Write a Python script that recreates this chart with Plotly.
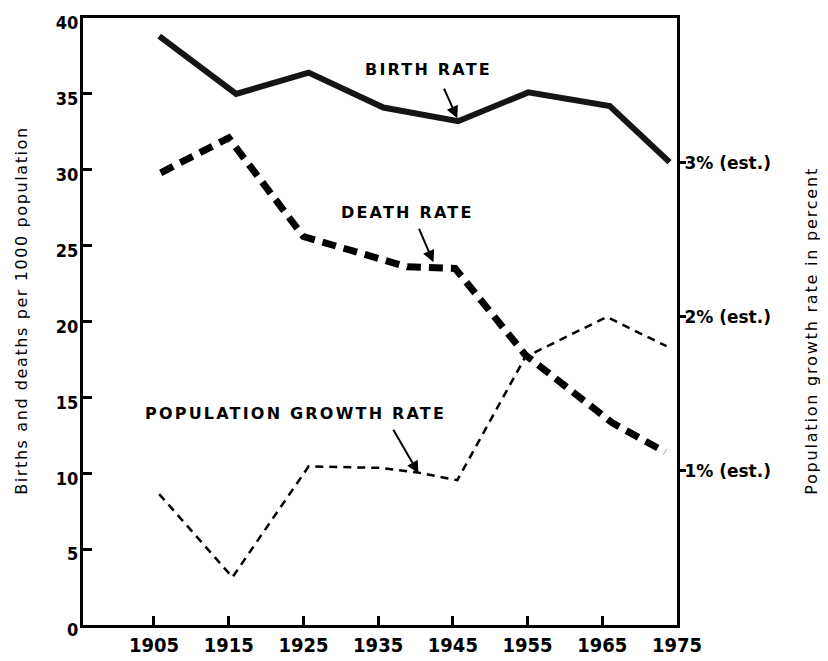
import plotly.graph_objects as go

# ---- data ----
birth_years = [1905.7, 1916.0, 1925.7, 1935.7, 1945.7, 1955.1, 1966.0, 1974.0]
birth_rate = [38.8, 35.0, 36.4, 34.1, 33.2, 35.1, 34.2, 30.5]

death_years = [1905.9, 1915.0, 1925.0, 1938.9, 1945.3, 1954.7, 1966.4, 1973.4]
death_rate = [29.8, 32.1, 25.6, 23.6, 23.5, 17.8, 13.3, 11.4]

growth_years = [1905.7, 1915.5, 1925.7, 1935.3, 1940.3, 1945.6, 1954.7, 1965.6, 1973.6]
growth_pct = [0.85, 0.31, 1.03, 1.02, 0.99, 0.94, 1.74, 2.0, 1.81]

x_ticks = [1905, 1915, 1925, 1935, 1945, 1955, 1965, 1975]
y_ticks = [0, 5, 10, 15, 20, 25, 30, 35, 40]
y2_ticks = [1, 2, 3]
y2_labels = ["1% (est.)", "2% (est.)", "3% (est.)"]

FONT = "DejaVu Sans Condensed, DejaVu Sans, sans-serif"
LABEL_FONT = "DejaVu Sans, Verdana, sans-serif"


def spaced(text, px):
    return '<span style="letter-spacing:%spx">%s</span>' % (px, text)


fig = go.Figure()

fig.add_trace(go.Scatter(x=birth_years, y=birth_rate, mode="lines",
                         line=dict(color="#151515", width=6), name="Birth rate",
                         showlegend=False))
fig.add_trace(go.Scatter(x=death_years, y=death_rate, mode="lines",
                         line=dict(color="#000000", width=7, dash="14px,8px"),
                         name="Death rate", showlegend=False))
fig.add_trace(go.Scatter(x=growth_years, y=growth_pct, mode="lines", yaxis="y2",
                         line=dict(color="#000000", width=2.5, dash="8px,6px"),
                         name="Population growth rate", showlegend=False))

annos = [
    dict(text="BIRTH RATE", x=1941.7, y=36.6),
    dict(text="DEATH RATE", x=1938.9, y=27.2),
    dict(text="POPULATION GROWTH RATE", x=1924.0, y=13.95),
]
for a in annos:
    fig.add_annotation(x=a["x"], y=a["y"], xref="x", yref="y",
                       text=spaced(a["text"], 2.2), showarrow=False,
                       font=dict(family=LABEL_FONT, size=16, color="#000",
                                 weight="bold"))

arrows = [
    dict(x=1945.6, y=33.4, ax=-14, ay=-31),
    dict(x=1942.4, y=23.9, ax=-15, ay=-35),
    dict(x=1940.4, y=10.0, ax=-26, ay=-45),
]
for a in arrows:
    fig.add_annotation(x=a["x"], y=a["y"], xref="x", yref="y", text="",
                       showarrow=True, arrowhead=2, arrowsize=1.2, arrowwidth=2,
                       arrowcolor="#000", ax=a["ax"], ay=a["ay"])

# axis titles (placed as paper annotations for exact positioning)
fig.add_annotation(x=-0.104, y=0.518, xref="paper", yref="paper",
                   text=spaced("Births and deaths per 1000 population", 1.6),
                   textangle=-90, showarrow=False,
                   xanchor="center", yanchor="middle",
                   font=dict(family=LABEL_FONT, size=16, color="#000"))
fig.add_annotation(x=1.226, y=0.485, xref="paper", yref="paper",
                   text=spaced("Population growth rate in percent", 1.8),
                   textangle=-90, showarrow=False,
                   xanchor="center", yanchor="middle",
                   font=dict(family=LABEL_FONT, size=16, color="#000"))

fig.update_layout(
    width=828, height=661,
    margin=dict(l=75, r=159, t=10, b=44, autoexpand=False),
    paper_bgcolor="white", plot_bgcolor="white",
    font=dict(family=FONT, color="#000"),
    xaxis=dict(range=[1895.5, 1975], tickvals=x_ticks, showgrid=False,
               zeroline=False, showline=True, linecolor="#000", linewidth=3,
               mirror=True, ticks="inside", ticklen=9, tickwidth=2.5,
               tickcolor="#000", automargin=False, ticklabeloverflow="allow",
               tickfont=dict(size=20, family=FONT, weight="bold")),
    yaxis=dict(range=[0, 40], tickvals=y_ticks, showgrid=False, zeroline=False,
               showline=True, linecolor="#000", linewidth=3, automargin=False,
               ticks="inside", ticklen=9, tickwidth=3, tickcolor="#000",
               ticklabeloverflow="allow", ticklabelstandoff=-2,
               ticklabelshift=5,
               tickfont=dict(size=18, family=FONT, weight="bold")),
    yaxis2=dict(range=[0, 40 / 10.15], overlaying="y", side="right",
                tickvals=y2_ticks, ticktext=y2_labels, showgrid=False,
                zeroline=False, showline=True, linecolor="#000", linewidth=3,
                ticks="outside", ticklen=6, tickwidth=3, tickcolor="#000",
                automargin=False, ticklabelstandoff=-5,
                ticklabeloverflow="allow",
                tickfont=dict(size=17, family=LABEL_FONT, weight="bold")),
)

fig.write_html("out.html")
